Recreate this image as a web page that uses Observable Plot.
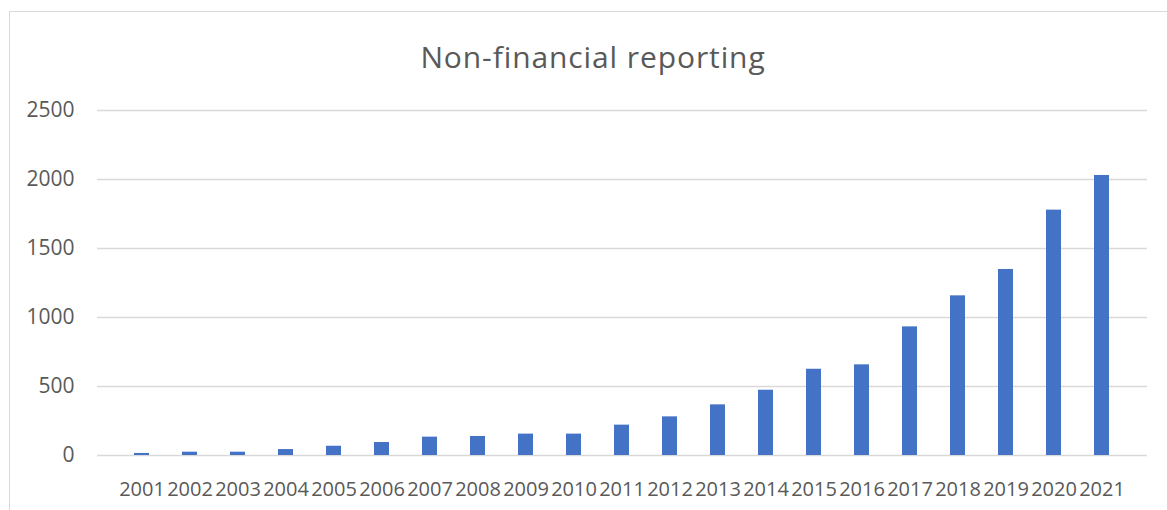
<!DOCTYPE html>
<html>
<head>
<meta charset="utf-8">
<script src="https://cdn.jsdelivr.net/npm/d3@7"></script>
<script src="https://cdn.jsdelivr.net/npm/@observablehq/plot@0.6"></script>
<style>
  html, body { margin: 0; padding: 0; background: #fff; }
  #frame { position: absolute; left: 9px; top: 11px; width: 1200px; height: 520px;
           border-top: 1px solid #d9d9d9; border-left: 1px solid #d9d9d9; }
  #title { position: absolute; left: 0; top: 36px; width: 1186px; text-align: center;
           font-family: "Open Sans", sans-serif; font-size: 30px; letter-spacing: 0.9px; color: #595959; }
  #chart { position: absolute; left: 0; top: 90px; }
</style>
</head>
<body>
<div id="frame"></div>
<div id="title">Non-financial reporting</div>
<div id="chart"></div>
<script>
const years = ["2001","2002","2003","2004","2005","2006","2007","2008","2009","2010","2011",
               "2012","2013","2014","2015","2016","2017","2018","2019","2020","2021"];
const counts = [15, 24, 24, 43, 67, 94, 133, 138, 155, 155, 220,
                280, 367, 473, 625, 657, 932, 1157, 1348, 1778, 2029];
const yTicks = [0, 500, 1000, 1500, 2000, 2500];

const data = years.map((y, i) => ({year: y, value: counts[i]}));

const chart = Plot.plot({
  width: 1167,
  height: 420,
  marginLeft: 97,
  marginRight: 20,
  marginTop: 20,
  marginBottom: 55,
  style: { fontFamily: "Open Sans, sans-serif", fontSize: "21px", color: "#595959", background: "transparent" },
  x: { domain: years, padding: 0.686, label: null },
  y: { domain: [0, 2500], label: null },
  marks: [
    Plot.gridY(yTicks, { stroke: "#d9d9d9", strokeOpacity: 1, strokeWidth: 1.3 }),
    Plot.barY(data, { x: "year", y: "value", fill: "#4472c4" }),
    Plot.axisX({ tickSize: 0, tickPadding: 26, fontSize: 20, label: null }),
    Plot.axisY(yTicks, { tickSize: 0, tickPadding: 23, fontSize: 21, label: null, tickFormat: d => String(d) })
  ]
});
document.getElementById("chart").appendChild(chart);
</script>
</body>
</html>
